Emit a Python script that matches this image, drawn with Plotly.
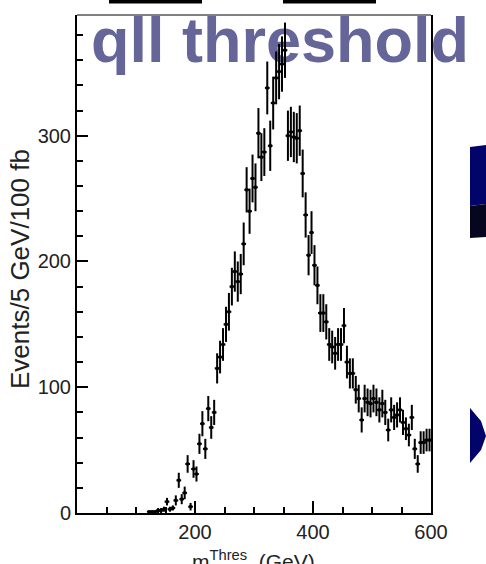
import plotly.graph_objects as go

# ---------------- data ----------------
mass_bins = [
    122.5, 127.5, 132.5, 137.5, 142.5, 147.5, 152.5, 157.5, 162.5, 167.5,
    172.5, 177.5, 182.5, 187.5, 192.5, 197.5, 202.5, 207.5, 212.5, 217.5,
    222.5, 227.5, 232.5, 237.5, 242.5, 247.5, 252.5, 257.5, 262.5, 267.5,
    272.5, 277.5, 282.5, 287.5, 292.5, 297.5, 302.5, 307.5, 312.5, 317.5,
    322.5, 327.5, 332.5, 337.5, 342.5, 347.5, 352.5, 357.5, 362.5, 367.5,
    372.5, 377.5, 382.5, 387.5, 392.5, 397.5, 402.5, 407.5, 412.5, 417.5,
    422.5, 427.5, 432.5, 437.5, 442.5, 447.5, 452.5, 457.5, 462.5, 467.5,
    472.5, 477.5, 482.5, 487.5, 492.5, 497.5, 502.5, 507.5, 512.5, 517.5,
    522.5, 527.5, 532.5, 537.5, 542.5, 547.5, 552.5, 557.5, 562.5, 567.5,
    572.5, 577.5, 582.5, 587.5, 592.5, 597.5,
]
events = [
    1, 1, 1, 2, 2, 3, 9, 3, 4, 10,
    26, 11, 16, 39, 5, 35, 31, 55, 71, 51,
    83, 68, 80, 115, 124, 134, 150, 160, 180, 192,
    184, 190, 214, 257, 240, 266, 259, 302, 283, 287,
    338, 292, 326, 346, 351, 357, 368, 300, 303, 299,
    298, 304, 270, 237, 205, 223, 197, 181, 159, 159,
    152, 134, 132, 127, 134, 134, 149, 120, 111, 111,
    98, 91, 74, 91, 88, 87, 91, 88, 82, 87,
    80, 66, 82, 76, 78, 82, 72, 67, 62, 76,
    51, 39, 56, 56, 58, 58,
]
event_errors = [
    1, 1, 1, 2, 2, 2, 3, 2, 2, 4,
    6, 4, 5, 7, 3, 7, 6, 8, 10, 8,
    10, 9, 10, 12, 13, 13, 14, 15, 15, 16,
    16, 16, 17, 18, 18, 19, 19, 20, 19, 19,
    21, 20, 21, 21, 22, 22, 22, 20, 20, 20,
    20, 20, 19, 18, 16, 17, 16, 15, 15, 15,
    14, 13, 13, 13, 13, 13, 14, 13, 12, 12,
    11, 11, 10, 11, 11, 11, 11, 11, 10, 11,
    10, 9, 10, 10, 10, 10, 10, 9, 9, 10,
    8, 7, 9, 9, 9, 9,
]
bin_half_width = 4

x_tickvals = [200, 400, 600]
x_ticktext = ["200", "400", "600"]
y_tickvals = [0, 100, 200, 300]
y_ticktext = ["0", "100", "200", "300"]

title_text = "qll threshold"
x_title = "m<sup>Thres</sup>  (GeV)"
y_title = "Events/5 GeV/100 fb"

# ---------------- layout geometry helpers ----------------
W, H = 486, 564
L, R, T, B = 77, 431, 15, 513


def px_x(p):
    return (p - L) / (R - L)


def px_y(p):
    return (B - p) / (B - T)


FONT = "Liberation Sans, Arial, Helvetica, sans-serif"

fig = go.Figure()

# big slide title, drawn under the data points
fig.add_trace(go.Scatter(
    x=[344], y=[371], mode="text", text=[title_text],
    textfont=dict(family=FONT, size=63, color="#65659a", weight="bold"),
    textposition="middle center", cliponaxis=False,
    hoverinfo="skip", showlegend=False,
))

# histogram points with error bars
fig.add_trace(go.Scatter(
    x=mass_bins, y=events, mode="markers",
    marker=dict(color="black", size=3, symbol="square"),
    error_y=dict(type="data", array=event_errors, color="black",
                 thickness=2, width=0),
    error_x=dict(type="constant", value=bin_half_width, color="black",
                 thickness=2, width=0),
    showlegend=False, hoverinfo="x+y",
))

shapes = [
    # top frame (grey)
    dict(type="line", xref="paper", yref="paper", x0=0, x1=1, y0=1, y1=1,
         line=dict(color="#808080", width=2)),
    # black bars at the very top
    dict(type="rect", xref="paper", yref="paper",
         x0=px_x(109), x1=px_x(202), y0=px_y(3.5), y1=px_y(0),
         fillcolor="black", line=dict(width=0)),
    dict(type="rect", xref="paper", yref="paper",
         x0=px_x(283), x1=px_x(376), y0=px_y(3.5), y1=px_y(0),
         fillcolor="black", line=dict(width=0)),
    # navy decorations on the right
    dict(type="path", xref="paper", yref="paper",
         path=(f"M {px_x(470)} {px_y(147)} L {px_x(486)} {px_y(145)} "
               f"L {px_x(486)} {px_y(204)} L {px_x(470)} {px_y(206)} Z"),
         fillcolor="#03036c", line=dict(width=0)),
    dict(type="path", xref="paper", yref="paper",
         path=(f"M {px_x(470)} {px_y(206)} L {px_x(486)} {px_y(204)} "
               f"L {px_x(486)} {px_y(237)} L {px_x(470)} {px_y(238)} Z"),
         fillcolor="#06061e", line=dict(width=0)),
    dict(type="path", xref="paper", yref="paper",
         path=(f"M {px_x(470)} {px_y(408)} L {px_x(481)} {px_y(421)} "
               f"L {px_x(486)} {px_y(436)} L {px_x(481)} {px_y(450)} "
               f"L {px_x(470)} {px_y(463)} Z"),
         fillcolor="#03036c", line=dict(width=0)),
]

annotations = [
    dict(text=y_title, xref="paper", yref="paper", x=px_x(20), y=px_y(269),
         xanchor="center", yanchor="middle", textangle=-90, showarrow=False,
         font=dict(family=FONT, size=26, color="#222")),
    dict(text=x_title, xref="paper", yref="paper", x=px_x(253), y=px_y(545),
         xanchor="center", yanchor="top", showarrow=False,
         font=dict(family=FONT, size=21, color="#222")),
]

fig.update_layout(
    width=W, height=H,
    margin=dict(l=L, r=W - R, t=T, b=H - B, pad=0),
    paper_bgcolor="white", plot_bgcolor="white",
    shapes=shapes, annotations=annotations,
    showlegend=False,
    xaxis=dict(
        range=[0, 600], showgrid=False, zeroline=False,
        showline=True, linecolor="black", linewidth=2, mirror=False,
        ticks="inside", ticklen=12, tickwidth=2, tickcolor="black",
        tickmode="array", tickvals=x_tickvals, ticktext=x_ticktext,
        tickfont=dict(family=FONT, size=20, color="#222"),
        minor=dict(ticks="inside", ticklen=6, tickwidth=1.5,
                   tickcolor="black", tickmode="linear", tick0=0, dtick=50),
    ),
    yaxis=dict(
        range=[0, 396], showgrid=False, zeroline=False,
        showline=True, linecolor="black", linewidth=2, mirror=True,
        ticks="inside", ticklen=11, tickwidth=2, tickcolor="black",
        tickmode="array", tickvals=y_tickvals, ticktext=y_ticktext,
        tickfont=dict(family=FONT, size=20, color="#222"),
        minor=dict(ticks="inside", ticklen=6, tickwidth=1.5,
                   tickcolor="black", tickmode="linear", tick0=0, dtick=20),
    ),
)

fig.write_html("out.html")
